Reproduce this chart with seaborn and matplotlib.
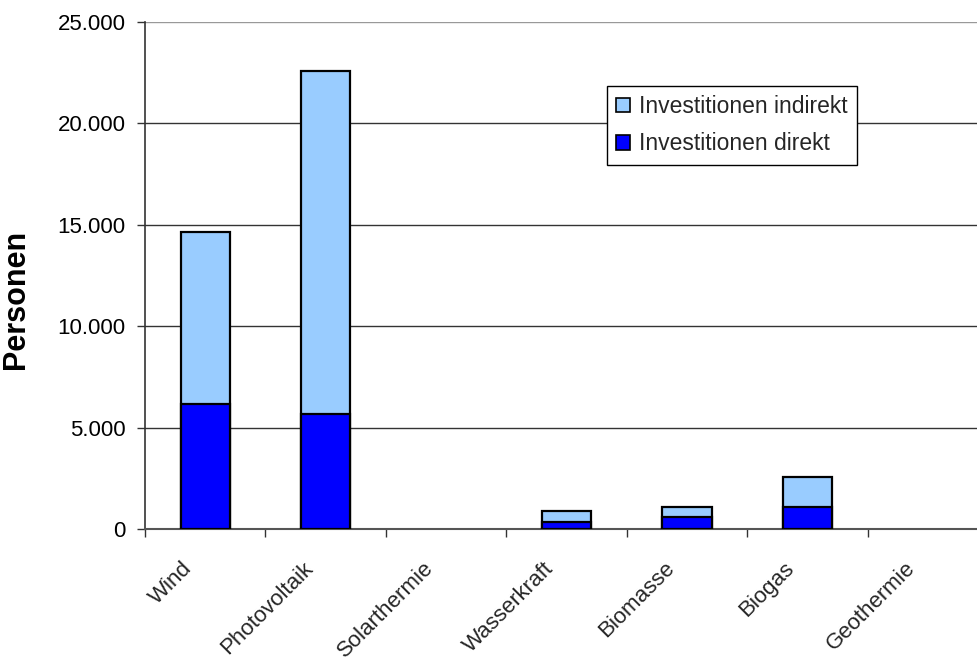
import matplotlib
matplotlib.use("Agg")
import matplotlib.pyplot as plt
import matplotlib.transforms as mtransforms
import seaborn as sns
import pandas as pd
from matplotlib.ticker import FuncFormatter, FixedLocator
from matplotlib.patches import Patch

categories = ["Wind", "Photovoltaik", "Solarthermie", "Wasserkraft", "Biomasse", "Biogas", "Geothermie"]
direkt = [6170, 5670, 0, 330, 580, 1100, 0]
indirekt = [8460, 16930, 0, 570, 520, 1480, 0]
total = [d + i for d, i in zip(direkt, indirekt)]

sns.set_theme(style="white")
plt.rcParams['font.family'] = ['Liberation Sans', 'DejaVu Sans']

df = pd.DataFrame({"cat": categories, "direkt": direkt, "total": total})

fig = plt.figure(figsize=(9.77, 6.62), dpi=100)
ax = fig.add_axes([145/977, (662-529)/662, 843/977, 507/662])

light = "#99ccff"
dark = "#0000ff"
sns.barplot(data=df, x="cat", y="total", color=light, saturation=1, width=0.41,
            edgecolor="black", linewidth=1.6, ax=ax, zorder=3)
sns.barplot(data=df, x="cat", y="direkt", color=dark, saturation=1, width=0.41,
            edgecolor="black", linewidth=1.6, ax=ax, zorder=4)
for p in ax.patches:
    if p.get_height() == 0:
        p.set_visible(False)

ax.set_xlim(-0.5, 6.5)
ax.set_ylim(0, 25000)
ax.set_yticks([0, 5000, 10000, 15000, 20000, 25000])
ax.yaxis.set_major_formatter(FuncFormatter(lambda v, p: f"{int(v):,}".replace(",", ".")))
ax.yaxis.grid(True, color="#333333", linewidth=1.0, zorder=0)
ax.set_axisbelow(True)
gl = ax.yaxis.get_gridlines()
gl[-1].set_color("#999999")

ax.set_xticks(range(len(categories)))
ax.set_xticklabels(categories, rotation=45, ha="right", va="center",
                   rotation_mode="anchor", fontsize=16)
ax.tick_params(axis="x", which="major", length=0, pad=26)
offset = mtransforms.ScaledTranslation(-0.16, 0, fig.dpi_scale_trans)
for lbl in ax.get_xticklabels():
    lbl.set_transform(lbl.get_transform() + offset)
ax.xaxis.set_minor_locator(FixedLocator([i - 0.5 for i in range(len(categories) + 1)]))
ax.tick_params(axis="x", which="minor", length=5.8, width=1, color="#333333", bottom=True)
ax.tick_params(axis="y", length=5.8, width=1, color="#333333", left=True, labelsize=16, pad=8)
for lbl in ax.get_yticklabels():
    lbl.set_color("black")

ax.set_xlabel("")
ax.set_ylabel("")
fig.text(16/977, 1 - 299/662, "Personen", rotation=90, ha="center", va="center",
         fontsize=22, fontweight="bold", color="black")

for s in ["top", "right"]:
    ax.spines[s].set_visible(False)
ax.spines["left"].set_color("#333333")
ax.spines["left"].set_linewidth(1.2)
ax.spines["bottom"].set_color("#555555")
ax.spines["bottom"].set_linewidth(1.5)

handles = [Patch(facecolor=light, edgecolor="black", linewidth=1.2),
           Patch(facecolor=dark, edgecolor="black", linewidth=1.2)]
leg = ax.legend(handles, ["Investitionen indirekt", "Investitionen direkt"],
                loc="upper left", bbox_to_anchor=((607-145)/843, (529-86)/507),
                fontsize=16.5, frameon=True, fancybox=False, handlelength=0.6,
                handleheight=0.6, handletextpad=0.4, borderpad=0.4, labelspacing=0.62,
                borderaxespad=0)
leg.get_frame().set_edgecolor("black")
leg.get_frame().set_linewidth(1)
leg.get_frame().set_alpha(1)
leg.set_zorder(10)

fig.savefig("out.png", dpi=100)
